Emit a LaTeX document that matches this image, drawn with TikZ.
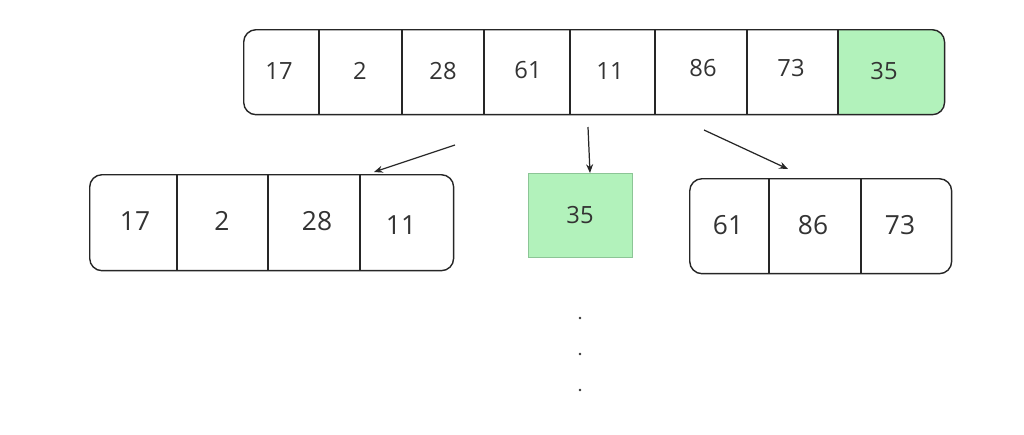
\documentclass[tikz,border=0pt]{standalone}
\usepackage{fontspec}
\setmainfont{Open Sans}
\usetikzlibrary{arrows.meta}
\definecolor{cellgreen}{HTML}{B2F2BB}
\definecolor{greenline}{HTML}{8CC596}
\definecolor{txtgray}{HTML}{333333}
\tikzset{
  frame/.style={draw=black!85,line width=0.8pt,rounded corners=7pt,inner sep=0pt,anchor=north west},
  num/.style={text=txtgray,font=\fontsize{13.5}{16}\selectfont},
  bignum/.style={text=txtgray,font=\fontsize{15}{18}\selectfont},
}
\begin{document}
\begin{tikzpicture}[x=0.02cm,y=-0.02cm]
\useasboundingbox (0,0) rectangle (1024,434);

% top array
\fill[cellgreen,rounded corners=7pt] (838,114) [sharp corners] -- (838,29) [rounded corners=7pt] -- (944,29) -- (944,114) [sharp corners] -- cycle;
\node[frame,minimum width=14.02cm,minimum height=1.7cm] (top) at (243,29) {};
\foreach \x in {319,402,484,570,655,747,838}
  \draw[black!85,line width=0.8pt] (\x,29) -- (\x,114);
\foreach \x/\y/\t [count=\i] in {279/71/17,360/71/2,443/71/28,528/70/61,610/71/11,703/68/86,791/68/73,884/71/35}
  \node[num] (t\i) at (\x,\y) {\t};

% left part
\node[frame,minimum width=7.28cm,minimum height=1.92cm] (left) at (89,174) {};
\foreach \x in {177,268,360}
  \draw[black!85,line width=0.8pt] (\x,174) -- (\x,270);
\foreach \x/\y/\t [count=\i] in {135/221/17,222/221/2,317/221/28,401/225/11}
  \node[bignum] (l\i) at (\x,\y) {\t};

% pivot
\node[draw=greenline,fill=cellgreen,inner sep=0pt,anchor=north west,minimum width=2.08cm,minimum height=1.68cm] (pivot) at (528,173) {};
\node[num] (p1) at (580,215) {35};

% right part
\node[frame,minimum width=5.24cm,minimum height=1.9cm] (right) at (689,178) {};
\foreach \x in {769,861}
  \draw[black!85,line width=0.8pt] (\x,178) -- (\x,273);
\foreach \x/\y/\t [count=\i] in {728/225/61,813/225/86,900/225/73}
  \node[bignum] (r\i) at (\x,\y) {\t};

% arrows
\coordinate (ls) at (455,145);
\coordinate (le) at (374,172);
\coordinate (ms) at (588,127);
\coordinate (me) at (590,173);
\coordinate (rs) at (704,130);
\coordinate (re) at (788,169);
\draw[-{Stealth[length=5pt,width=4pt]},black!85,line width=0.7pt] (ls) -- (le);
\draw[-{Stealth[length=5pt,width=4pt]},black!85,line width=0.7pt] (ms) -- (me);
\draw[-{Stealth[length=5pt,width=4pt]},black!85,line width=0.7pt] (rs) -- (re);

% dots
\foreach \y in {318,354,390}
  \fill[txtgray] (580,\y) circle (0.8pt);
\end{tikzpicture}
\end{document}
